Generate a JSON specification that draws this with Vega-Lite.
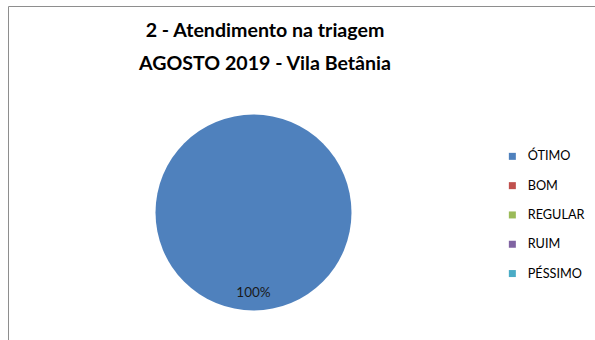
{
  "$schema": "https://vega.github.io/schema/vega-lite/v6.json",
  "autosize": {"type": "none"},
  "width": 600,
  "height": 350,
  "padding": {"left": 8, "top": 6, "right": 0, "bottom": 0},
  "background": "white",
  "view": {"stroke": "#8e8e8e", "strokeWidth": 1, "fill": "white"},
  "config": {"view": {"stroke": "#8e8e8e", "strokeWidth": 1}, "font": "Lato"},
  "title": {
    "text": ["2 - Atendimento na triagem", "AGOSTO 2019 - Vila Betânia"],
    "font": "Lato",
    "fontSize": 19.6,
    "fontWeight": "bold",
    "color": "#000000",
    "anchor": "middle",
    "frame": "group",
    "lineHeight": 33,
    "dx": -43,
    "dy": 73
  },
  "data": {
    "values": [
      {"categoria": "ÓTIMO", "share": 1},
      {"categoria": "BOM", "share": 0},
      {"categoria": "REGULAR", "share": 0},
      {"categoria": "RUIM", "share": 0},
      {"categoria": " PÉSSIMO", "share": 0}
    ]
  },
  "layer": [
    {
      "mark": {"type": "arc", "outerRadius": 98, "x": 245.5, "y": 206.5, "stroke": null},
      "encoding": {
        "theta": {"field": "share", "type": "quantitative", "stack": true},
        "color": {
          "field": "categoria",
          "type": "nominal",
          "scale": {
            "domain": ["ÓTIMO", "BOM", "REGULAR", "RUIM", " PÉSSIMO"],
            "range": ["#4F81BD", "#C0504D", "#9BBB59", "#8064A2", "#4BACC6"]
          },
          "legend": {
            "title": null,
            "orient": "none",
            "legendX": 498,
            "legendY": 144,
            "padding": 0,
            "symbolType": "square",
            "symbolSize": 49,
            "symbolStrokeWidth": 0,
            "labelFont": "Lato",
            "labelFontSize": 12.7,
            "labelColor": "#000000",
            "labelOffset": 9,
            "rowPadding": 15.3,
            "labelExpr": "datum.label == ' PÉSSIMO' ? '\u00a0PÉSSIMO' : datum.label"
          }
        }
      }
    },
    {
      "transform": [{"filter": "datum.share > 0"}],
      "mark": {"type": "text", "radius": 80, "x": 245.5, "y": 206.5, "font": "Lato", "fontSize": 13.5, "color": "#1a1a1a", "baseline": "middle", "align": "center"},
      "encoding": {
        "theta": {"field": "share", "type": "quantitative", "stack": true},
        "text": {"field": "share", "type": "quantitative", "format": ".0%"}
      }
    }
  ]
}
